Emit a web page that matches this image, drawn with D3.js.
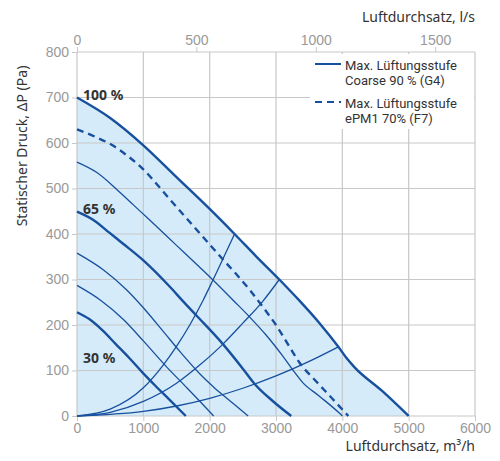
<!DOCTYPE html>
<html>
<head>
<meta charset="utf-8">
<script src="https://cdn.jsdelivr.net/npm/d3@7/dist/d3.min.js"></script>
<style>
  body { margin: 0; background: #fff; }
  svg { display: block; font-family: "Noto Sans", "Open Sans", sans-serif; }
  .tick text { fill: #999; font-size: 14px; }
  .tick line { stroke: #c8c8c8; }
  .axis_title { fill: #333; font-size: 14px; }
  .curve_label { fill: #333; font-size: 14px; font-weight: bold; }
  .legend text { fill: #333; font-size: 13px; font-family: Roboto, sans-serif; }
</style>
</head>
<body>
<div id="chart"></div>
<script>
// Data: [m3/h, Pa]
const fan100 = [[0,700],[500,655],[1000,595],[1500,525],[2000,455],[2375,400],[2700,351],[3050,300],[3350,254],[3650,205],[3940,152],[4060,128],[4185,107],[4600,55],[5000,0]];
const fanF7 = [[0,630],[285,613],[535,595],[785,569],[1000,542],[1200,510],[1400,476],[1600,443],[1800,410],[2000,377],[2200,344],[2400,312],[2610,276],[2800,240],[3000,200],[3200,153],[3360,116],[3600,77],[3850,38],[4090,0]];
const fanThin1 = [[0,558],[300,535],[600,498],[850,464],[1100,430],[1500,375],[1850,327],[2050,299],[2350,255],[2600,218],[2850,178],[3100,132],[3250,102],[3400,74],[3650,44],[3950,7],[4000,0]];
const fan65 = [[0,449],[285,427],[435,409],[700,378],[1000,342],[1400,284],[1600,252],[1800,221],[2200,158],[2500,104],[2675,71],[2950,33],[3230,0]];
const fanThin2 = [[0,358],[400,321],[750,277],[1000,238],[1300,186],[1550,142],[1850,93],[2050,65],[2200,46],[2400,22],[2580,0]];
const fanThin3 = [[0,287],[350,255],[700,212],[1000,165],[1350,108],[1650,63],[1880,28],[2060,0]];
const fan30 = [[0,228],[185,213],[385,188],[585,158],[785,128],[985,96],[1185,66],[1385,37],[1640,0]];

// system curves from the origin
const sysA = [[0,0],[500,15],[1000,62],[1300,112],[1500,153],[1700,200],[1900,254],[2050,299],[2375,400]];
const sysB = [[0,0],[500,8],[1000,32],[1500,72],[1850,112],[2200,158],[2500,204],[2800,252],[3050,300]];
const sysC = [[0,0],[1000,10],[1500,22],[2000,39],[2500,61],[3000,88],[3500,120],[3940,152]];

const xTicks = [0, 1000, 2000, 3000, 4000, 5000, 6000];
const yTicks = [0, 100, 200, 300, 400, 500, 600, 700, 800];
const lsTicks = [0, 500, 1000, 1500];

const curveLabels = [
  {text: "100 %", at: [0, 700]},
  {text: "65 %", at: [0, 449]},
  {text: "30 %", at: [0, 120]}
];
const legendItems = [
  {lines: ["Max. Lüftungsstufe", "Coarse 90 % (G4)"], dash: null},
  {lines: ["Max. Lüftungsstufe", "ePM1 70% (F7)"], dash: "7,5"}
];

const W = 500, H = 461;
const margin = {top: 52, left: 77, right: 25, bottom: 45};
const width = W - margin.left - margin.right,
  height = H - margin.top - margin.bottom;
const blue = "#17509e";

let svg = d3.select("#chart")
  .append("svg")
    .attr("width", W)
    .attr("height", H);

let g = svg.append("g")
    .attr("transform", "translate(" + margin.left + "," + margin.top + ")");

const xScale = d3.scaleLinear().domain([0, 6000]).range([0, width]);
const yScale = d3.scaleLinear().domain([0, 800]).range([height, 0]);
// l/s on top, 1 l/s = 3.6 m3/h
const lsScale = d3.scaleLinear().domain([0, 6000 / 3.6]).range([0, width]);

const line = d3.line()
  .x(d => xScale(d[0]))
  .y(d => yScale(d[1]))
  .curve(d3.curveMonotoneX);

// shaded working area under the 100 % curve
g.append("path")
  .attr("d", d3.area()
    .x(d => xScale(d[0]))
    .y0(yScale(0))
    .y1(d => yScale(d[1]))
    .curve(d3.curveMonotoneX)(fan100))
  .attr("fill", "#d5ebf9");

// grid
g.append("g")
  .selectAll("line")
  .data(xTicks)
  .enter().append("line")
    .attr("x1", d => xScale(d)).attr("x2", d => xScale(d))
    .attr("y1", 0).attr("y2", height)
    .attr("stroke", "#c8c8c8").attr("stroke-width", 1.2);

g.append("g")
  .selectAll("line")
  .data(yTicks)
  .enter().append("line")
    .attr("x1", 0).attr("x2", width)
    .attr("y1", d => yScale(d)).attr("y2", d => yScale(d))
    .attr("stroke", "#c8c8c8").attr("stroke-width", 1.2);

// axes
const fmt = d3.format("d");

let xAxis = g.append("g")
  .attr("transform", "translate(0," + height + ")")
  .call(d3.axisBottom(xScale).tickValues(xTicks).tickFormat(fmt).tickSize(5).tickPadding(2));
xAxis.select(".domain").remove();

let yAxis = g.append("g")
  .call(d3.axisLeft(yScale).tickValues(yTicks).tickFormat(fmt).tickSize(5).tickPadding(3));
yAxis.select(".domain").remove();

let topAxis = g.append("g")
  .call(d3.axisTop(lsScale).tickValues(lsTicks).tickFormat(fmt).tickSize(5).tickPadding(2));
topAxis.select(".domain").remove();

svg.selectAll(".tick text").style("font-family", "inherit");

// axis titles
svg.append("text")
  .attr("class", "axis_title")
  .attr("x", margin.left + width)
  .attr("y", 22)
  .attr("text-anchor", "end")
  .text("Luftdurchsatz, l/s");

svg.append("text")
  .attr("class", "axis_title")
  .attr("x", margin.left + width)
  .attr("y", 451)
  .attr("text-anchor", "end")
  .text("Luftdurchsatz, m³/h");

svg.append("text")
  .attr("class", "axis_title")
  .attr("transform", "translate(27," + (margin.top + 94) + ") rotate(-90)")
  .attr("text-anchor", "middle")
  .text("Statischer Druck, ΔP (Pa)");

// system curves
[sysA, sysB, sysC].forEach(s => {
  g.append("path")
    .attr("d", line(s))
    .attr("fill", "none")
    .attr("stroke", blue)
    .attr("stroke-width", 1.3);
});

// fan curves
const fans = [
  {pts: fanThin3, w: 1.3}, {pts: fanThin2, w: 1.3}, {pts: fanThin1, w: 1.3},
  {pts: fan30, w: 2.4}, {pts: fan65, w: 2.4}, {pts: fan100, w: 2.4},
  {pts: fanF7, w: 2.4, dash: "7,5"}
];
fans.forEach(f => {
  g.append("path")
    .attr("d", line(f.pts))
    .attr("fill", "none")
    .attr("stroke", blue)
    .attr("stroke-width", f.w)
    .attr("stroke-dasharray", f.dash || null);
});

// labels on the curves
g.selectAll(".curve_label")
  .data(curveLabels)
  .enter().append("text")
    .attr("class", "curve_label")
    .attr("x", d => xScale(d.at[0]) + 6)
    .attr("y", d => yScale(d.at[1]) + 2)
    .text(d => d.text);

// legend
let legend = svg.append("g")
  .attr("class", "legend")
  .attr("transform", "translate(310,54)");

legend.append("rect")
  .attr("width", margin.left + width - 310 - 1)
  .attr("height", 75)
  .attr("fill", "#fff");

legendItems.forEach((item, i) => {
  let row = legend.append("g")
    .attr("transform", "translate(0," + (i * 38) + ")");
  row.append("line")
    .attr("x1", 5).attr("x2", 31)
    .attr("y1", 10).attr("y2", 10)
    .attr("stroke", blue)
    .attr("stroke-width", 2)
    .attr("stroke-dasharray", item.dash);
  item.lines.forEach((t, j) => {
    row.append("text")
      .attr("x", 35)
      .attr("y", 16 + j * 15)
      .text(t);
  });
});
</script>
</body>
</html>
